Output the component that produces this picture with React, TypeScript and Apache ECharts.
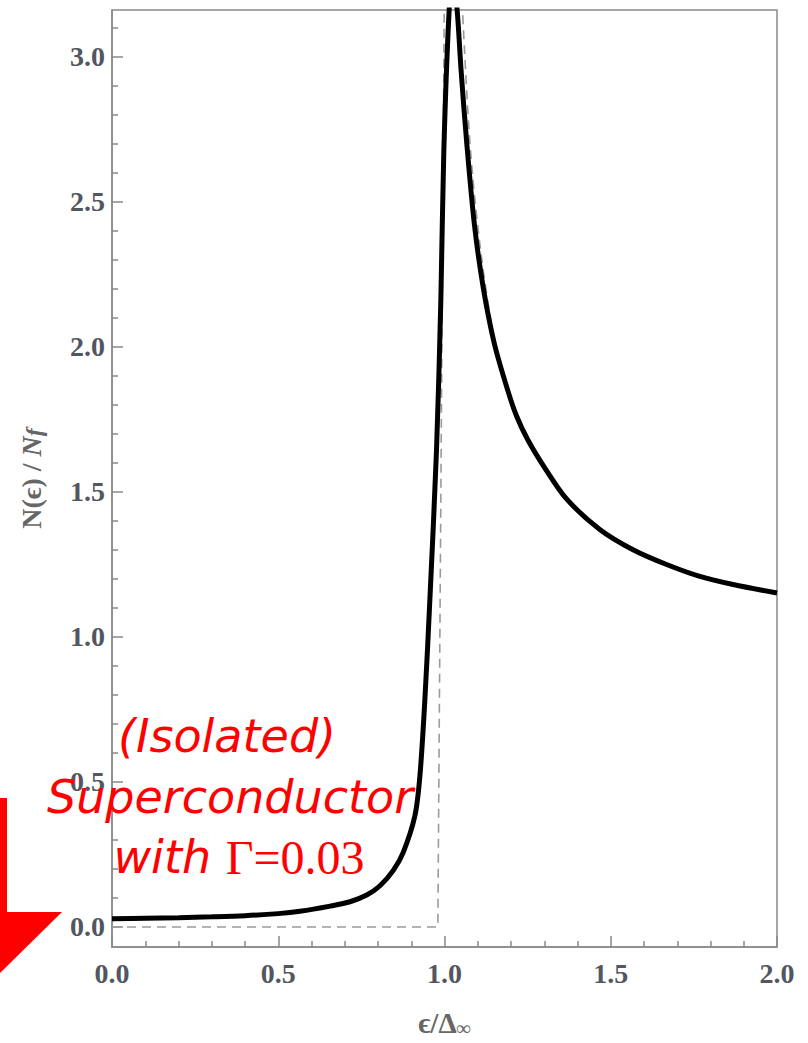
import React, { useEffect, useRef } from "react";
import * as echarts from "echarts";

// Solid curve: broadened DOS
const energy = [0, 0.1, 0.2, 0.3, 0.4, 0.5, 0.565, 0.656, 0.716, 0.766, 0.806, 0.846, 0.876, 0.911, 0.926, 0.941, 0.956, 0.976, 0.989, 0.998, 1.014, 1.025, 1.038, 1.05, 1.067, 1.09, 1.117, 1.15, 1.19, 1.217, 1.25, 1.3, 1.367, 1.468, 1.567, 1.668, 1.768, 1.868, 2.0];
const dos = [0.028, 0.03, 0.032, 0.035, 0.039, 0.046, 0.054, 0.072, 0.087, 0.11, 0.142, 0.195, 0.257, 0.383, 0.52, 0.784, 1.128, 1.644, 2.16, 2.676, 3.16, 3.28, 3.16, 2.95, 2.7, 2.42, 2.2, 2.01, 1.85, 1.76, 1.68, 1.585, 1.475, 1.369, 1.3, 1.249, 1.208, 1.18, 1.151];

// Dashed curve: gapless reference
const dashLeftX = [0, 0.98, 1.0];
const dashLeftY = [0, 0, 3.3];
const dashRightX = [1.045, 1.054, 1.078, 1.11, 1.15, 1.2, 1.3, 1.4, 1.5, 1.6, 1.7, 1.8, 1.9, 2.0];
const dashRightY = [3.4, 3.16, 2.68, 2.32, 2.03, 1.82, 1.585, 1.44, 1.34, 1.28, 1.235, 1.2, 1.175, 1.153];

const yMajorTicks = [0, 0.5, 1.0, 1.5, 2.0, 2.5, 3.0];
const yMinorTicks = [0.1, 0.2, 0.3, 0.4, 0.6, 0.7, 0.8, 0.9, 1.1, 1.2, 1.3, 1.4, 1.6, 1.7, 1.8, 1.9, 2.1, 2.2, 2.3, 2.4, 2.6, 2.7, 2.8, 2.9, 3.1];
const xMajorTicks = [0, 0.5, 1.0, 1.5, 2.0];
const xMinorTicks = [0.1, 0.2, 0.3, 0.4, 0.6, 0.7, 0.8, 0.9, 1.1, 1.2, 1.3, 1.4, 1.6, 1.7, 1.8, 1.9];

const zip = (a: number[], b: number[]) => a.map((v, i) => [v, b[i]]);

const AXIS = "#8a8a8a";
const LABEL = "#525660";
const SERIF = "'Liberation Serif', 'DejaVu Serif', serif";

export default function App() {
  const ref = useRef<HTMLDivElement>(null);
  useEffect(() => {
    if (!ref.current) return;
    const chart = echarts.init(ref.current, undefined, { renderer: "svg" });
    const labelStyle = {
      fontFamily: SERIF,
      fontWeight: "bold" as const,
      fontSize: 28,
      color: LABEL,
    };
    chart.setOption({
      animation: false,
      backgroundColor: "#ffffff",
      grid: {
        left: 112,
        right: 31,
        top: 10,
        bottom: 95,
        show: true,
        borderColor: AXIS,
        borderWidth: 1.5,
      },
      xAxis: [
        {
          type: "value",
          min: 0,
          max: 2,
          position: "bottom",
          axisLine: { show: true, onZero: false, lineStyle: { color: AXIS, width: 1.5 } },
          splitLine: { show: false },
          axisTick: { show: true, inside: true, length: 11, customValues: xMajorTicks, lineStyle: { color: AXIS, width: 1.5 } },
          axisLabel: {
            ...labelStyle,
            customValues: xMajorTicks,
            margin: 12,
            formatter: (v: number) => v.toFixed(1),
          },
          name: "{e|ϵ/Δ}{s|∞}",
          nameLocation: "middle",
          nameGap: 60,
          nameTextStyle: {
            rich: {
              e: { fontFamily: SERIF, fontSize: 29, color: "#666", fontWeight: "bold" },
              s: { fontFamily: SERIF, fontSize: 20, color: "#666", fontWeight: "bold", padding: [11, 0, 0, 0] },
            },
          },
        },
        {
          type: "value",
          min: 0,
          max: 2,
          position: "bottom",
          axisLine: { show: false, onZero: false },
          splitLine: { show: false },
          axisTick: { show: true, inside: true, length: 6, customValues: xMinorTicks, lineStyle: { color: AXIS, width: 1.5 } },
          axisLabel: { show: false },
        },
      ],
      yAxis: [
        {
          type: "value",
          min: -0.069,
          max: 3.16,
          position: "left",
          axisLine: { show: true, onZero: false, lineStyle: { color: AXIS, width: 1.5 } },
          splitLine: { show: false },
          axisTick: { show: true, inside: true, length: 11, customValues: yMajorTicks, lineStyle: { color: AXIS, width: 1.5 } },
          axisLabel: {
            ...labelStyle,
            customValues: yMajorTicks,
            margin: 7,
            formatter: (v: number) => v.toFixed(1),
          },
          name: "{a|N(ϵ) / }{b|N}{c|f}",
          nameLocation: "middle",
          nameGap: 66,
          nameTextStyle: {
            rich: {
              a: { fontFamily: SERIF, fontSize: 28, color: "#666", fontWeight: "bold" },
              b: { fontFamily: SERIF, fontSize: 28, color: "#666", fontWeight: "bold", fontStyle: "italic" },
              c: { fontFamily: SERIF, fontSize: 24, color: "#666", fontWeight: "bold", fontStyle: "italic", padding: [6, 0, 0, 0] },
            },
          },
        },
        {
          type: "value",
          min: -0.069,
          max: 3.16,
          position: "left",
          axisLine: { show: false, onZero: false },
          splitLine: { show: false },
          axisTick: { show: true, inside: true, length: 6, customValues: yMinorTicks, lineStyle: { color: AXIS, width: 1.5 } },
          axisLabel: { show: false },
        },
      ],
      series: [
        {
          type: "line",
          data: zip(dashLeftX, dashLeftY),
          showSymbol: false,
          symbol: "none",
          lineStyle: { color: "#9a9a9a", width: 1.6, type: [9, 6] },
          clip: true,
          z: 1,
        },
        {
          type: "line",
          data: zip(dashRightX, dashRightY),
          showSymbol: false,
          symbol: "none",
          smooth: 0.3,
          lineStyle: { color: "#9a9a9a", width: 1.6, type: [9, 6] },
          clip: true,
          z: 1,
        },
        {
          type: "line",
          data: zip(energy, dos),
          showSymbol: false,
          symbol: "none",
          smooth: 0.3,
          lineStyle: { color: "#000000", width: 5 },
          clip: true,
          z: 3,
        },
      ],
      graphic: [
        {
          type: "rect",
          shape: { x: 0, y: 798, width: 7, height: 114 },
          style: { fill: "#ff0000" },
          z: 100,
        },
        {
          type: "polygon",
          shape: { points: [[0, 912], [62, 912], [0, 973]] },
          style: { fill: "#ff0000" },
          z: 100,
        },
        {
          type: "text",
          x: 227,
          y: 736,
          style: {
            text: "(Isolated)",
            fill: "#ff0000",
            font: "italic 46px 'DejaVu Sans'",
            align: "center",
            verticalAlign: "middle",
          },
          z: 100,
        },
        {
          type: "text",
          x: 230,
          y: 797,
          style: {
            text: "Superconductor",
            fill: "#ff0000",
            font: "italic 46px 'DejaVu Sans'",
            align: "center",
            verticalAlign: "middle",
          },
          z: 100,
        },
        {
          type: "text",
          x: 239,
          y: 857,
          style: {
            text: "{w|with }{g|Γ=0.03}",
            align: "center",
            verticalAlign: "middle",
            rich: {
              w: { fill: "#ff0000", fontFamily: "DejaVu Sans", fontStyle: "italic", fontSize: 46 },
              g: { fill: "#ff0000", fontFamily: "Liberation Serif", fontSize: 48 },
            },
          },
          z: 100,
        },
      ],
    });
    return () => chart.dispose();
  }, []);
  return (
    <div
      ref={ref}
      style={{ position: "fixed", left: 0, top: 0, width: 808, height: 1043, background: "#fff" }}
    />
  );
}
